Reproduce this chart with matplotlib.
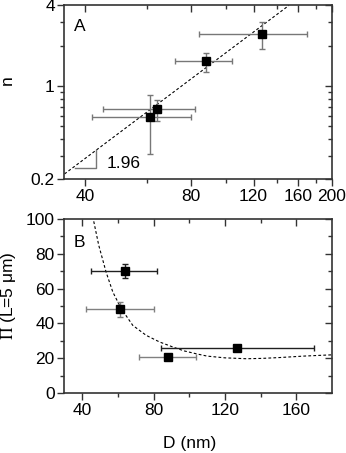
import numpy as np
import matplotlib.pyplot as plt
from matplotlib.ticker import FixedLocator, NullFormatter

plt.rcParams['font.family'] = ['Liberation Sans', 'DejaVu Sans']
plt.rcParams['mathtext.fontset'] = 'stix'
plt.rcParams['font.size'] = 12.5

# diameters (nm) with x error ranges
D = [61, 64, 88, 127]
D_lo = [42, 45, 72, 84]
D_hi = [80, 82, 104, 170]

# panel A : n vs D (log-log)
n = [0.59, 0.67, 1.53, 2.45]
n_lo = [0.31, 0.545, 1.28, 1.90]
n_hi = [0.86, 0.785, 1.78, 3.0]

# power law fit, slope 1.96
fit_D = [35, 151]
fit_n = [0.22, 4.0]

# panel B : Pi (L=5 um) vs D
Pi = [48, 70, 21, 25.8]
Pi_lo = [43.7, 65.9, 19.8, 25.0]
Pi_hi = [52.1, 73.9, 22.2, 26.6]
bar_colors = ['#808080', '#202020', '#808080', '#202020']

# dashed model curve
curve_D = [46.4, 49.2, 53.3, 57.1, 61.8, 68.3, 75.8, 83.3, 90.8, 97, 104,
           110, 120, 132, 141, 151, 164, 177, 182]
curve_Pi = [98.5, 84.8, 69.5, 58.0, 48.5, 38.9, 33.2, 29.4, 26.5, 24.3, 22.6,
            21.3, 20.3, 19.8, 20.0, 20.5, 21.3, 21.9, 22.1]

fig = plt.figure(figsize=(3.46, 4.53), dpi=100)
axA = fig.add_axes([0.1864, 0.6038, 0.7731, 0.3841])
axB = fig.add_axes([0.1864, 0.1318, 0.7731, 0.3854])

spine_c = '#333333'
for ax in (axA, axB):
    for s in ax.spines.values():
        s.set_linewidth(1.2)
        s.set_color(spine_c)

def style_ticks(ax):
    ax.tick_params(which='both', direction='out', colors=spine_c, width=1.0,
                   labelcolor='black', pad=2)
    ax.tick_params(which='major', length=5)
    ax.tick_params(which='minor', length=3)

# ---------- panel A ----------
for i in range(len(D)):
    axA.errorbar(D[i], n[i],
                 xerr=[[D[i] - D_lo[i]], [D_hi[i] - D[i]]],
                 yerr=[[n[i] - n_lo[i]], [n_hi[i] - n[i]]],
                 fmt='s', color='black', ms=5.5, ecolor='#777777',
                 elinewidth=1.0, capsize=2.5, capthick=1.0, zorder=3)
axA.plot(fit_D, fit_n, color='black', lw=0.8, ls=(0, (2.5, 2)), zorder=2)
axA.plot([37.5, 43.1, 43.1], [0.243, 0.243, 0.33], color='#777777', lw=1.0)
axA.text(46, 0.262, '1.96', va='center', ha='left')
axA.text(0.035, 0.88, 'A', transform=axA.transAxes, va='center', ha='left')

axA.set_xscale('log')
axA.set_yscale('log')
axA.set_xlim(35, 200)
axA.set_ylim(0.2, 4)
xmajA = [40, 80, 120, 160, 200]
xminA = [60, 100, 140, 180]
ymajA = [0.2, 1, 4]
yminA = [0.3, 0.4, 0.5, 0.6, 0.7, 0.8, 0.9, 2, 3]
axA.xaxis.set_major_locator(FixedLocator(xmajA))
axA.xaxis.set_minor_locator(FixedLocator(xminA))
axA.xaxis.set_minor_formatter(NullFormatter())
axA.set_xticklabels([str(v) for v in xmajA])
axA.yaxis.set_major_locator(FixedLocator(ymajA))
axA.yaxis.set_minor_locator(FixedLocator(yminA))
axA.yaxis.set_minor_formatter(NullFormatter())
axA.set_yticklabels(['0.2', '1', '4'])
style_ticks(axA)
axA.set_ylabel('n')
axA.yaxis.set_label_coords(-0.185, 0.57)

# ---------- panel B ----------
for i in range(len(D)):
    axB.errorbar(D[i], Pi[i],
                 xerr=[[D[i] - D_lo[i]], [D_hi[i] - D[i]]],
                 yerr=[[Pi[i] - Pi_lo[i]], [Pi_hi[i] - Pi[i]]],
                 fmt='s', color='black', ms=5.5, ecolor=bar_colors[i],
                 elinewidth=1.0, capsize=2.5, capthick=1.0, zorder=3)
axB.plot(curve_D, curve_Pi, color='black', lw=0.8, ls=(0, (2.5, 2)), zorder=2)
axB.text(0.035, 0.862, 'B', transform=axB.transAxes, va='center', ha='left')

axB.set_xlim(30, 180)
axB.set_ylim(0, 100)
axB.xaxis.set_major_locator(FixedLocator([40, 80, 120, 160]))
axB.xaxis.set_minor_locator(FixedLocator([60, 100, 140]))
axB.yaxis.set_major_locator(FixedLocator([0, 20, 40, 60, 80, 100]))
axB.yaxis.set_minor_locator(FixedLocator([10, 30, 50, 70, 90]))
style_ticks(axB)
axB.set_ylabel(r'$\Pi$ (L=5 μm)')
axB.yaxis.set_label_coords(-0.172, 0.559)
axB.set_xlabel('D (nm)')
axB.xaxis.set_label_coords(0.468, -0.245)

# mirrored inward ticks on top and right
for ax, xmaj, xmin, ymaj, ymin in (
        (axA, xmajA, xminA, ymajA, yminA),
        (axB, [40, 80, 120, 160], [60, 100, 140],
         [0, 20, 40, 60, 80, 100], [10, 30, 50, 70, 90])):
    top = ax.secondary_xaxis('top')
    top.set_xticks(xmaj)
    top.xaxis.set_minor_locator(FixedLocator(xmin))
    top.tick_params(which='both', direction='in', labeltop=False,
                    colors=spine_c, width=1.0)
    top.tick_params(which='major', length=5)
    top.tick_params(which='minor', length=3)
    top.spines['top'].set_visible(False)
    right = ax.secondary_yaxis('right')
    right.set_yticks(ymaj)
    right.yaxis.set_minor_locator(FixedLocator(ymin))
    right.tick_params(which='both', direction='in', labelright=False,
                      colors=spine_c, width=1.0)
    right.tick_params(which='major', length=5)
    right.tick_params(which='minor', length=3)
    right.spines['right'].set_visible(False)

fig.savefig('out.png', dpi=100)
